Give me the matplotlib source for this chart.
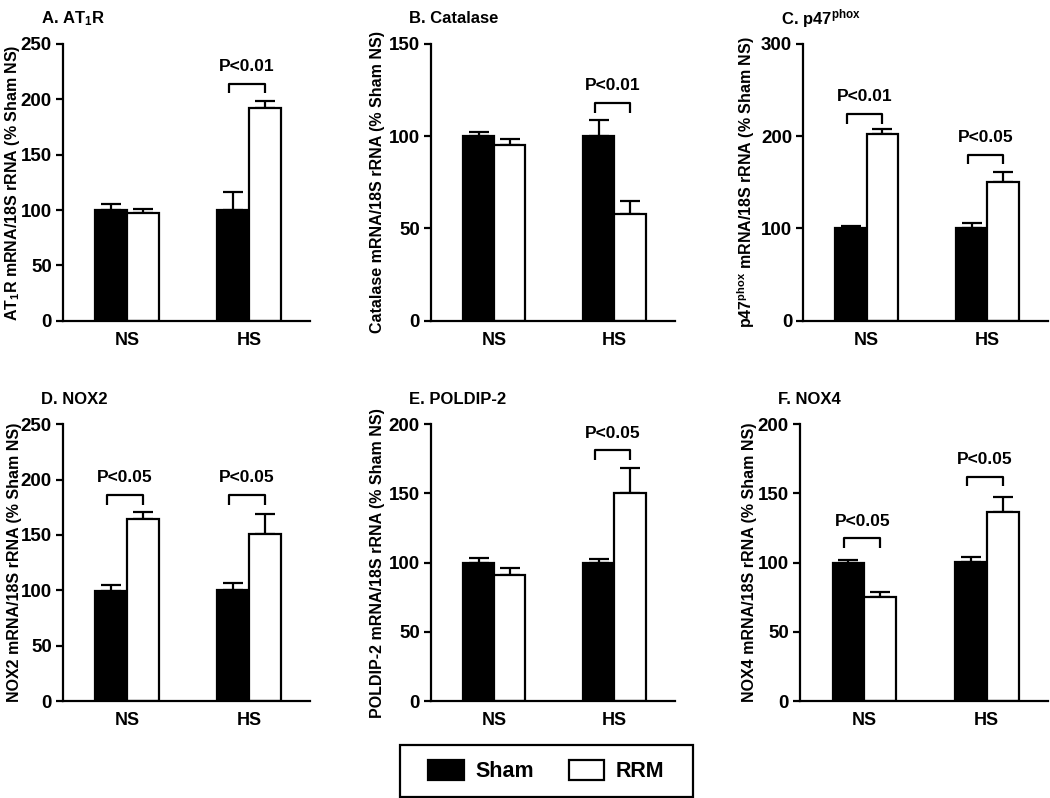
import matplotlib
matplotlib.use("Agg")
import matplotlib.pyplot as plt
from matplotlib.patches import Patch, Rectangle
from matplotlib import font_manager

# pick a condensed bold font if there is one
names = set(f.name for f in font_manager.fontManager.ttflist)
main_font = "Liberation Sans Narrow" if "Liberation Sans Narrow" in names else "Liberation Sans"

plt.rcParams["font.family"] = [main_font, "DejaVu Sans"]
plt.rcParams["font.weight"] = "bold"
plt.rcParams["mathtext.fontset"] = "custom"
plt.rcParams["mathtext.rm"] = main_font + ":bold"
plt.rcParams["mathtext.it"] = main_font + ":bold"
plt.rcParams["mathtext.bf"] = main_font + ":bold"
plt.rcParams["mathtext.default"] = "rm"

# Data
groups = ["NS", "HS"]
titles = ["A. AT$_1$R", "B. Catalase", "C. p47$^{phox}$",
          "D. NOX2", "E. POLDIP-2", "F. NOX4"]
ylabels = ["AT$_1$R mRNA/18S rRNA (% Sham NS)",
           "Catalase mRNA/18S rRNA (% Sham NS)",
           "p47$^{phox}$ mRNA/18S rRNA (% Sham NS)",
           "NOX2 mRNA/18S rRNA (% Sham NS)",
           "POLDIP-2 mRNA/18S rRNA (% Sham NS)",
           "NOX4 mRNA/18S rRNA (% Sham NS)"]
ymax = [250, 150, 300, 250, 200, 200]
ystep = [50, 50, 100, 50, 50, 50]

sham = [[100, 100], [100, 100], [100, 100], [99, 100], [100, 100], [100, 100.5]]
sham_err = [[5, 16], [2.5, 9], [3, 6], [5.5, 6.5], [3.5, 2.5], [1.7, 3.5]]
rrm = [[97, 192.5], [95, 58], [202, 150], [164.5, 151], [91, 150.5], [75.5, 136.5]]
rrm_err = [[3.5, 5.5], [3.5, 7], [5.5, 11], [6.5, 17.5], [5, 17.5], [3, 11]]

# significance brackets: (group index, bracket top, label)
brackets = [[(1, 214, "P<0.01")],
            [(1, 118, "P<0.01")],
            [(0, 224, "P<0.01"), (1, 180, "P<0.05")],
            [(0, 186, "P<0.05"), (1, 186, "P<0.05")],
            [(1, 181, "P<0.05")],
            [(0, 117.5, "P<0.05"), (1, 162, "P<0.05")]]

# axes positions in figure fraction
lefts = [0.060, 0.4105, 0.765, 0.060, 0.4105, 0.762]
widths = [0.235, 0.232, 0.233, 0.235, 0.232, 0.236]
bottoms = [0.598, 0.598, 0.598, 0.1215, 0.1215, 0.1215]
height = 0.347
label_x = [-0.166, -0.189, -0.188, -0.166, -0.189, -0.173]

fig = plt.figure(figsize=(10.5, 7.98), dpi=100)

xc = [1, 3]
bw = 0.52
lw = 1.6

for i in range(6):
    ax = fig.add_axes([lefts[i], bottoms[i], widths[i], height])
    xs = [x - bw / 2 for x in xc]
    xr = [x + bw / 2 for x in xc]
    ax.bar(xs, sham[i], bw, color="black", edgecolor="black", linewidth=lw, zorder=2)
    ax.bar(xr, rrm[i], bw, color="white", edgecolor="black", linewidth=lw, zorder=2)
    ax.errorbar(xs, sham[i], yerr=[[0, 0], sham_err[i]], fmt="none", ecolor="black",
                elinewidth=lw, capsize=7, capthick=lw, zorder=1)
    ax.errorbar(xr, rrm[i], yerr=[[0, 0], rrm_err[i]], fmt="none", ecolor="black",
                elinewidth=lw, capsize=7, capthick=lw, zorder=1)

    leg = ymax[i] * 0.035
    for g, top, label in brackets[i]:
        x0 = xs[g] - 0.07
        x1 = xr[g]
        ax.plot([x0, x0, x1, x1], [top - leg, top, top, top - leg],
                color="black", linewidth=lw, solid_capstyle="butt")
        ax.text((x0 + x1) / 2, top + ymax[i] * 0.035, label, ha="center",
                va="bottom", fontsize=12.5, fontweight="bold")

    ax.set_xlim(-0.05, 4.0)
    ax.set_ylim(0, ymax[i])
    ax.set_yticks(range(0, ymax[i] + 1, ystep[i]))
    ax.set_xticks(xc)
    ax.set_xticklabels(groups)
    ax.spines["top"].set_visible(False)
    ax.spines["right"].set_visible(False)
    ax.spines["left"].set_linewidth(lw)
    ax.spines["bottom"].set_linewidth(lw)
    ax.tick_params(axis="y", direction="out", length=5, width=lw, labelsize=13.5, pad=3)
    ax.tick_params(axis="x", length=0, labelsize=13, pad=8)
    for t in ax.get_yticklabels() + ax.get_xticklabels():
        t.set_fontweight("bold")
    ax.set_ylabel(ylabels[i], fontsize=11.5, fontweight="bold")
    ax.yaxis.set_label_coords(label_x[i], 0.5)
    ax.text(-0.09, 1.09, titles[i], transform=ax.transAxes, fontsize=12,
            fontweight="bold", ha="left", va="center")

# legend box
fig.patches.append(Rectangle((400 / 1050, 1 / 798), 293 / 1050, 52 / 798,
                             transform=fig.transFigure, facecolor="white",
                             edgecolor="black", linewidth=lw))
handles = [Patch(facecolor="black", edgecolor="black", linewidth=lw),
           Patch(facecolor="white", edgecolor="black", linewidth=lw)]
lg = fig.legend(handles, ["Sham", "RRM"], loc="center", bbox_to_anchor=(0.5205, 0.034),
                ncol=2, fontsize=15.5, handlelength=1.65, handleheight=1.1,
                handletextpad=0.55, columnspacing=1.6, frameon=False)
for t in lg.get_texts():
    t.set_fontweight("bold")

fig.savefig("out.png", dpi=100)
